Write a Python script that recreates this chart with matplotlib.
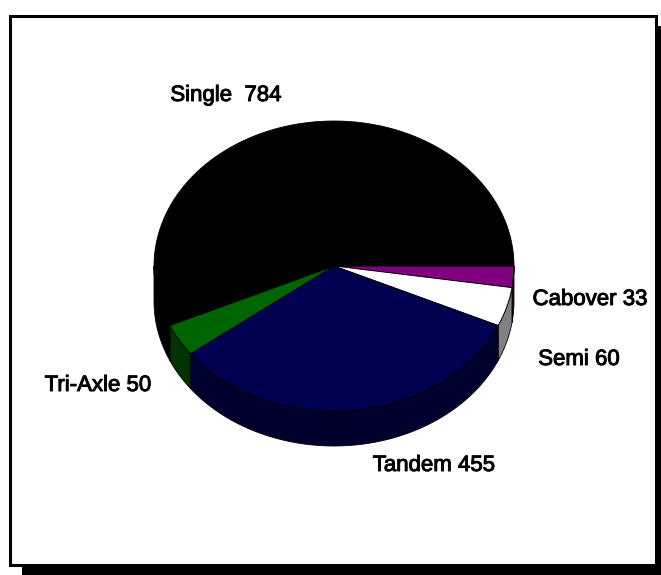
import numpy as np
import matplotlib.pyplot as plt
import matplotlib.patheffects as pe
from matplotlib.patches import Polygon, Rectangle

plt.rcParams['font.family'] = ['Liberation Sans', 'DejaVu Sans']

# truck types, clockwise from 3 o'clock
names = ["Cabover", "Semi", "Tandem", "Tri-Axle", "Single"]
counts = [33, 60, 455, 50, 784]
top_colors = ["#800080", "#ffffff", "#000050", "#006400", "#000000"]
side_colors = ["#400040", "#808080", "#00002e", "#003300", "#000000"]

# pie geometry in pixel units
cx, cy, rx, ry, depth = 334, 266, 180, 145, 35

fig = plt.figure(figsize=(6.61, 5.75), dpi=100)
ax = fig.add_axes([0, 0, 1, 1])
ax.set_xlim(0, 661)
ax.set_ylim(575, 0)
ax.axis('off')

# frame with drop shadow
ax.add_patch(Rectangle((22, 26), 660, 560, facecolor='black', edgecolor='none'))
ax.add_patch(Rectangle((9.5, 15.5), 646, 549, facecolor='white', edgecolor='black', lw=2.2))


def arc(a, b, n=120):
    t = np.radians(np.linspace(a, b, n))
    return cx + rx * np.cos(t), cy - ry * np.sin(t)


angles = np.concatenate([[0], np.cumsum(counts)]) / sum(counts) * 360

# outer sides (front half only)
for i in range(len(counts)):
    lo, hi = -angles[i + 1], -angles[i]
    a, b = max(lo, -180), min(hi, 0)
    if a >= b:
        continue
    x, y = arc(a, b)
    pts = np.column_stack([np.concatenate([x, x[::-1]]),
                           np.concatenate([y, y[::-1] + depth])])
    ax.add_patch(Polygon(pts, closed=True, facecolor=side_colors[i],
                         edgecolor='black', lw=0.6))

# top faces
for i in range(len(counts)):
    x, y = arc(-angles[i + 1], -angles[i])
    pts = np.column_stack([np.concatenate([[cx], x]), np.concatenate([[cy], y])])
    ax.add_patch(Polygon(pts, closed=True, facecolor=top_colors[i],
                         edgecolor='black', lw=0.6))

# labels
label_pos = [(590, 305), (579, 365), (434, 471), (98, 391), (226, 101)]
for n, c, (lx, ly) in zip(names, counts, label_pos):
    sep = "  " if n == "Single" else " "
    ax.text(lx, ly, f"{n}{sep}{c}", ha='center', va='baseline', fontsize=16,
            path_effects=[pe.withStroke(linewidth=0.7, foreground='black')])

plt.savefig('out.png', dpi=100)
